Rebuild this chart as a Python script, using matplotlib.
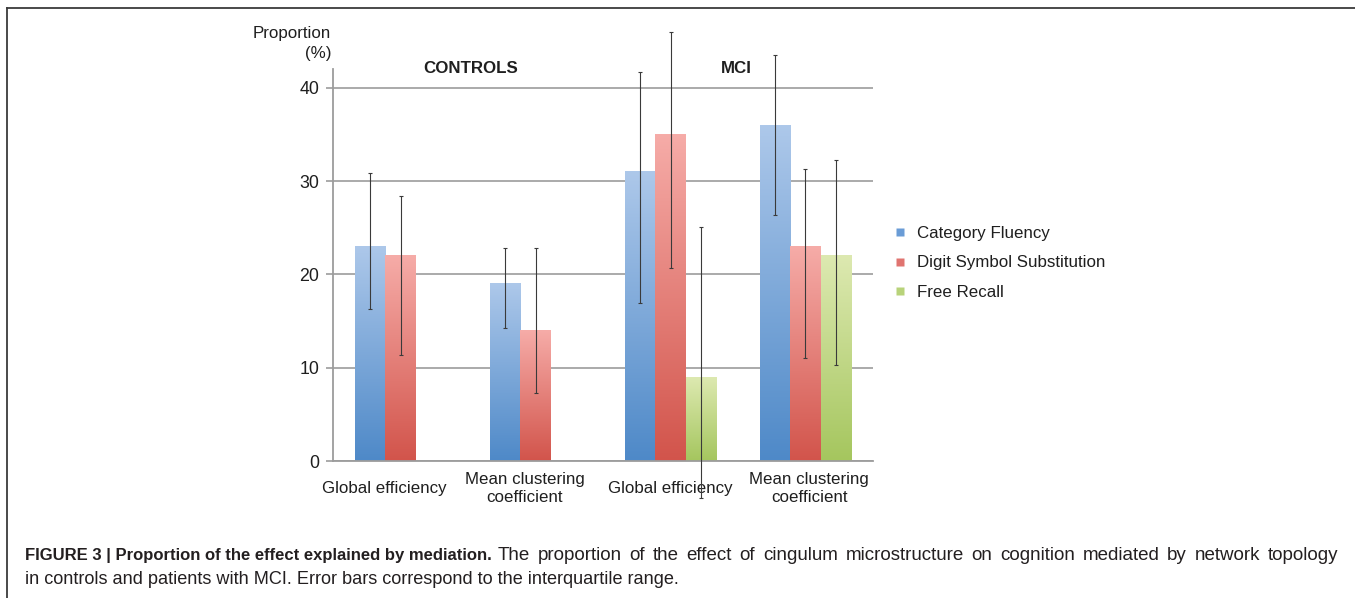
import numpy as np
import matplotlib
matplotlib.use("Agg")
import matplotlib.pyplot as plt
from matplotlib.colors import LinearSegmentedColormap
from matplotlib.lines import Line2D

plt.rcParams['font.family'] = ['Liberation Sans', 'DejaVu Sans']

# ---------------- data ----------------
categories = ["Global efficiency", "Mean clustering\ncoefficient",
              "Global efficiency", "Mean clustering\ncoefficient"]
groups = ["CONTROLS", "MCI"]
series = ["Category Fluency", "Digit Symbol Substitution", "Free Recall"]

category_fluency = [23, 19, 31, 36]
digit_symbol = [22, 14, 35, 23]
free_recall = [np.nan, np.nan, 9, 22]

# interquartile ranges (lower, upper)
cf_low = [16.3, 14.2, 16.9, 26.4]
cf_high = [30.9, 22.8, 41.7, 43.5]
ds_low = [11.4, 7.3, 20.7, 11.0]
ds_high = [28.4, 22.8, 46.0, 31.3]
fr_low = [np.nan, np.nan, -4.0, 10.3]
fr_high = [np.nan, np.nan, 25.1, 32.3]

yticks = [0, 10, 20, 30, 40]

caption_bold = "FIGURE 3 | Proportion of the effect explained by mediation."
caption_line1 = ("The proportion of the effect of cingulum microstructure on cognition "
                 "mediated by network topology")
caption_line2 = "in controls and patients with MCI. Error bars correspond to the interquartile range."

# ---------------- style ----------------
grad_colors = [("#4e89c8", "#adc8ea"),   # (bottom, top)
               ("#d2544b", "#f6aca8"),
               ("#a5c65e", "#dde9b1")]
legend_colors = ["#6a9cd6", "#e07470", "#b8d37a"]
grid_col = "#9c9c9c"
text_col = "#1f1f1f"
fs_chart = 12.2

W, H = 1355, 598
fig = plt.figure(figsize=(W / 100, H / 100), dpi=100)
ax = fig.add_axes([333 / W, 1 - 461 / H, 540 / W, (461 - 69) / H])

x = np.arange(len(categories)) + 0.5
bw = 0.226
values = [category_fluency, digit_symbol, free_recall]
lows = [cf_low, ds_low, fr_low]
highs = [cf_high, ds_high, fr_high]

grad = np.linspace(0, 1, 256).reshape(-1, 1)
for i, (vals, lo, hi) in enumerate(zip(values, lows, highs)):
    vals = np.array(vals, dtype=float)
    lo = np.array(lo, dtype=float)
    hi = np.array(hi, dtype=float)
    pos = x + (i - 1) * bw
    m = ~np.isnan(vals)
    bars = ax.bar(pos[m], vals[m], width=bw, facecolor="none", edgecolor="none", zorder=2)
    cmap = LinearSegmentedColormap.from_list("g%d" % i, list(grad_colors[i]))
    for r in bars:
        bx, by, w, h = r.get_x(), r.get_y(), r.get_width(), r.get_height()
        ax.imshow(grad, extent=[bx, bx + w, by, by + h], origin="lower",
                  cmap=cmap, aspect="auto", zorder=2, interpolation="bilinear")
    yerr = np.vstack([vals[m] - lo[m], hi[m] - vals[m]])
    ax.errorbar(pos[m], vals[m], yerr=yerr, fmt="none", ecolor="#3a3a3a",
                elinewidth=0.8, capsize=1.5, capthick=0.8, zorder=4, clip_on=False)

ax.set_xlim(0, len(categories))
ax.set_ylim(0, 42)
ax.set_yticks(yticks)
ax.set_yticklabels([str(t) for t in yticks], fontsize=12.8, color=text_col)
ax.yaxis.grid(True, color=grid_col, linewidth=1.2)
ax.set_axisbelow(True)
ax.tick_params(axis="y", length=5, width=1.2, color=grid_col, pad=5)

label_pos = [0.382, 1.422, 2.5, 3.526]
ax.set_xticks(label_pos)
ax.set_xticklabels(categories, fontsize=fs_chart, color=text_col,
                   va="center", ha="center", multialignment="center", linespacing=1.22)
ax.tick_params(axis="x", length=0, pad=20)

for s in ["top", "right"]:
    ax.spines[s].set_visible(False)
for s in ["left", "bottom"]:
    ax.spines[s].set_color(grid_col)
    ax.spines[s].set_linewidth(1.3)

# group headers
ax.text(1.02, 42.1, groups[0], fontsize=fs_chart, fontweight="bold", ha="center",
        va="center", color=text_col)
ax.text(2.99, 42.1, groups[1], fontsize=fs_chart, fontweight="bold", ha="center",
        va="center", color=text_col)

# y label
fig.text(331 / W, 1 - 43.5 / H, "Proportion\n(%)", ha="right", va="center",
         multialignment="right", fontsize=fs_chart, color=text_col, linespacing=1.48)

# legend
handles = [Line2D([], [], marker="s", linestyle="none", markersize=5.5,
                  markerfacecolor=c, markeredgecolor="none") for c in legend_colors]
fig.legend(handles, series, loc="center left", bbox_to_anchor=(895 / W, 1 - 263 / H),
           frameon=False, fontsize=fs_chart, handlelength=0.6, handletextpad=0.72,
           labelspacing=0.88, borderpad=0, borderaxespad=0, labelcolor=text_col)

# frame lines
fig.add_artist(Line2D([7.5 / W, 1], [1 - 8 / H, 1 - 8 / H], color="#3a3a3a", lw=1.3))
fig.add_artist(Line2D([7.5 / W, 7.5 / W], [0, 1 - 8 / H], color="#3a3a3a", lw=1.3))

# caption
cap_fs = 13.1
cap_col = "#231f20"
renderer = fig.canvas.get_renderer()

tb = fig.text(25 / W, 1 - 560 / H, caption_bold, fontsize=12.0, fontweight="bold",
              ha="left", va="baseline", color=cap_col)
bw_px = tb.get_window_extent(renderer).width

# regular part of first line, justified to the right margin
words = caption_line1.split()
arts = [fig.text(0, 1 - 560 / H, w, fontsize=13.5, ha="left",
                 va="baseline", color=cap_col) for w in words]
widths = [a.get_window_extent(renderer).width for a in arts]
x0 = 25.0 + bw_px + 6.0
x1 = 1338.0
gap = (x1 - x0 - sum(widths)) / (len(arts) - 1)
cx = x0
for a, wd in zip(arts, widths):
    a.set_x(cx / W)
    cx += wd + gap
fig.text(25 / W, 1 - 584 / H, caption_line2, fontsize=cap_fs, ha="left",
         va="baseline", color=cap_col)

fig.savefig("out.png", dpi=100)
